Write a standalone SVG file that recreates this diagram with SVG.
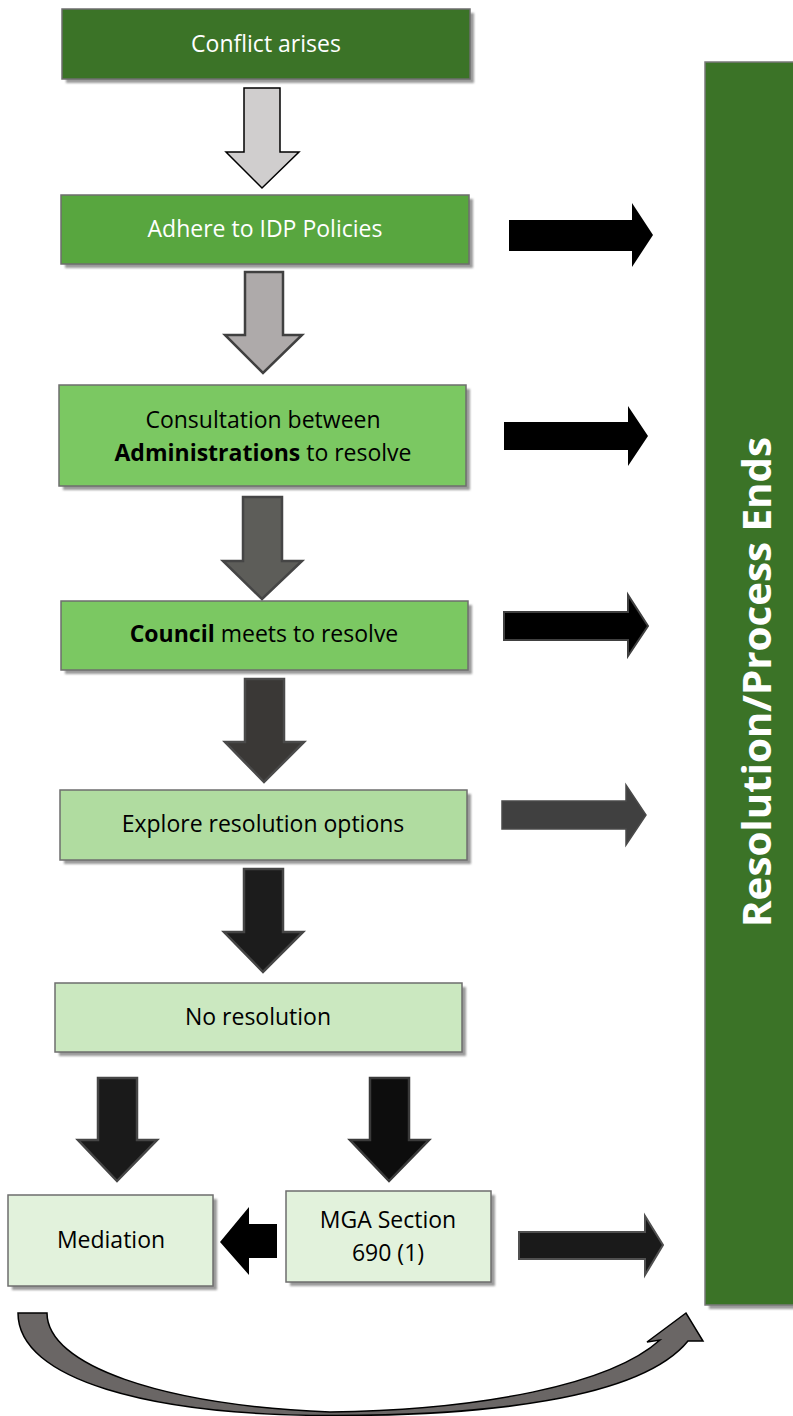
<svg xmlns="http://www.w3.org/2000/svg" width="793" height="1416" viewBox="0 0 793 1416">
<style>
  .box { stroke: #6e6e6e; stroke-width: 1.5; }
  .shadow { fill: #9a9a9a; filter: url(#blur); }
  .lbl { font-family: "Open Sans", "Liberation Sans", sans-serif; font-size: 23px; text-anchor: middle; }
  .w { fill: #ffffff; }
  .k { fill: #000000; }
  .b { font-weight: 700; }
  .dn { stroke-width: 2.5; stroke-linejoin: miter; }
</style>
<defs>
  <filter id="blur" x="-10%" y="-10%" width="120%" height="120%">
    <feGaussianBlur stdDeviation="1.2"/>
  </filter>
</defs>
<rect width="793" height="1416" fill="#ffffff"/>

<g id="node-end">
  <rect class="shadow" x="709" y="66" width="100" height="1243"/>
  <rect x="705" y="62" width="100" height="1243" fill="#3b7327" stroke="#7a7a7a" stroke-width="1.5"/>
  <text class="w b" transform="translate(771,682) rotate(-90)" text-anchor="middle" font-family="Open Sans, Liberation Sans, sans-serif" font-size="40" font-weight="700" textLength="490" lengthAdjust="spacingAndGlyphs">Resolution/Process Ends</text>
</g>

<g id="node-conflict">
  <rect class="shadow" x="66" y="13" width="408" height="70"/>
  <rect class="box" x="62" y="9" width="408" height="70" fill="#3b7327"/>
  <text class="lbl w" x="266" y="52">Conflict arises</text>
</g>

<g id="node-adhere">
  <rect class="shadow" x="65" y="199" width="408" height="69"/>
  <rect class="box" x="61" y="195" width="408" height="69" fill="#58a63f"/>
  <text class="lbl w" x="265" y="237">Adhere to IDP Policies</text>
</g>

<g id="node-consult">
  <rect class="shadow" x="63" y="389" width="407" height="101"/>
  <rect class="box" x="59" y="385" width="407" height="101" fill="#7bc862"/>
  <text class="lbl k" x="263" y="428">Consultation between</text>
  <text class="lbl k" x="263" y="461"><tspan class="b">Administrations</tspan> to resolve</text>
</g>

<g id="node-council">
  <rect class="shadow" x="65" y="605" width="407" height="69"/>
  <rect class="box" x="61" y="601" width="407" height="69" fill="#7bc862"/>
  <text class="lbl k" x="264" y="642"><tspan class="b">Council</tspan> meets to resolve</text>
</g>

<g id="node-explore">
  <rect class="shadow" x="64" y="794" width="407" height="70"/>
  <rect class="box" x="60" y="790" width="407" height="70" fill="#b0dca0"/>
  <text class="lbl k" x="263" y="832">Explore resolution options</text>
</g>

<g id="node-noresolution">
  <rect class="shadow" x="59" y="987" width="407" height="69"/>
  <rect class="box" x="55" y="983" width="407" height="69" fill="#cbe8c0"/>
  <text class="lbl k" x="258" y="1025">No resolution</text>
</g>

<g id="node-mediation">
  <rect class="shadow" x="12" y="1199" width="205" height="91"/>
  <rect class="box" x="8" y="1195" width="205" height="91" fill="#e2f2dc"/>
  <text class="lbl k" x="111" y="1248">Mediation</text>
</g>

<g id="node-mga">
  <rect class="shadow" x="290" y="1195" width="205" height="91"/>
  <rect class="box" x="286" y="1191" width="205" height="91" fill="#e2f2dc"/>
  <text class="lbl k" x="388" y="1228">MGA Section</text>
  <text class="lbl k" x="388" y="1261">690 (1)</text>
</g>

<g id="connectors">
  <polygon points="244,88 280,88 280,152 299,152 262,188 226,152 244,152" fill="#d0cece" stroke="#000000" stroke-width="1.5"/>
  <polygon class="dn" points="245,272 283,272 283,335 302,335 263,373 225,335 245,335" fill="#aeaaaa" stroke="#404040"/>
  <polygon class="dn" points="243,497 282,497 282,561 302,561 262,599 223,561 243,561" fill="#5d5d59" stroke="#454545"/>
  <polygon class="dn" points="245,679 284,679 284,742 304,742 264,782 225,742 245,742" fill="#3a3836" stroke="#4a4a4a"/>
  <polygon class="dn" points="244,869 283,869 283,932 303,932 263,972 224,932 244,932" fill="#1c1c1c" stroke="#454545"/>
  <polygon class="dn" points="98,1078 137,1078 137,1140 157,1140 117,1181 78,1140 98,1140" fill="#1a1a1a" stroke="#454545"/>
  <polygon class="dn" points="370,1078 409,1078 409,1140 429,1140 389,1181 350,1140 370,1140" fill="#0d0d0d" stroke="#3a3a3a"/>
  <polygon points="277,1224 277,1258 249,1258 249,1275 220,1242 249,1207 249,1224" fill="#000000"/>

  <polygon points="509,220 632,220 632,203 653,235 632,267 632,251 509,251" fill="#000000"/>
  <polygon points="504,422 628,422 628,406 648,436 628,466 628,450 504,450" fill="#000000"/>
  <polygon points="504,612 628,612 628,595 648,626 628,656 628,640 504,640" fill="#000000" stroke="#404040" stroke-width="2"/>
  <polygon points="502,801 626,801 626,785 646,815 626,845 626,829 502,829" fill="#404040" stroke="#4a4a4a" stroke-width="1.5"/>
  <polygon points="519,1232 645,1232 645,1216 663,1245 645,1275 645,1259 519,1259" fill="#1a1a1a" stroke="#505050" stroke-width="2"/>

  <path d="M18,1313 L47,1313 C47,1365 160,1405 330,1412 C480,1410 610,1385 660,1340 L647,1342 L686,1313 L703,1341 L688,1341 C640,1400 480,1416 330,1415.5 C150,1415 18,1380 18,1313 Z" fill="#6a6665" stroke="#000000" stroke-width="1.5" stroke-linejoin="miter"/>
</g>
</svg>
